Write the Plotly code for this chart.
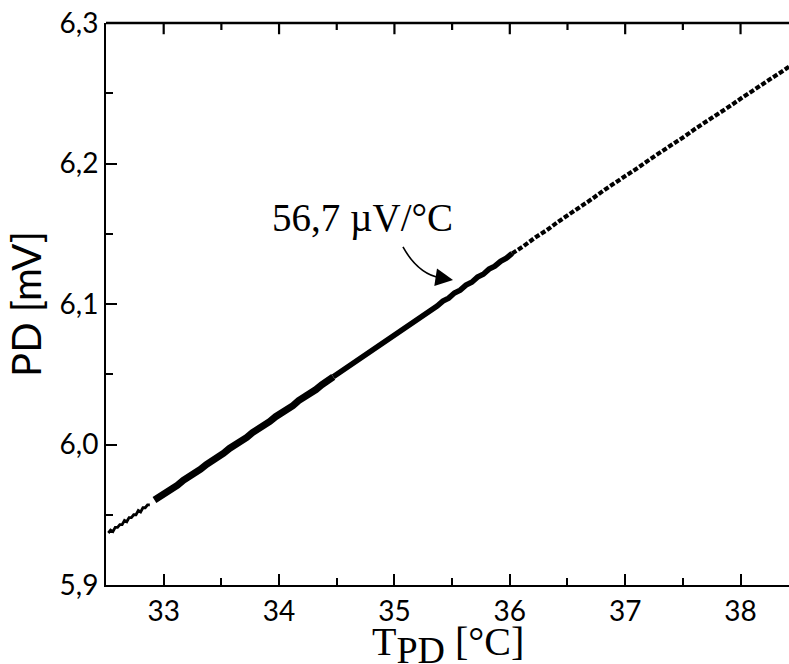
import plotly.graph_objects as go

# --- data (T_PD in °C, PD in mV) ---
t_a = [32.52, 32.54, 32.56, 32.58, 32.60, 32.62, 32.64, 32.66, 32.68, 32.70,
       32.72, 32.74, 32.76, 32.78, 32.80, 32.82, 32.84, 32.86, 32.88]
v_a = [5.937, 5.939, 5.938, 5.941, 5.941, 5.943, 5.943, 5.946, 5.945, 5.948,
       5.948, 5.950, 5.950, 5.953, 5.952, 5.955, 5.955, 5.957, 5.957]

t_b = [32.92, 32.97, 33.02, 33.07, 33.12, 33.17, 33.22, 33.27, 33.32, 33.37,
       33.42, 33.47, 33.52, 33.57, 33.62, 33.67, 33.72, 33.77, 33.82, 33.87,
       33.92, 33.97, 34.02, 34.07, 34.12, 34.17, 34.22, 34.27, 34.32, 34.37,
       34.42, 34.47]
v_b = [5.9605, 5.9630, 5.9652, 5.9688, 5.9710, 5.9745, 5.9768, 5.9801, 5.9824, 5.9858,
       5.9880, 5.9915, 5.9938, 5.9972, 5.9995, 6.0028, 6.0051, 6.0085, 6.0107, 6.0142,
       6.0164, 6.0198, 6.0221, 6.0255, 6.0277, 6.0312, 6.0334, 6.0368, 6.0391, 6.0425,
       6.0447, 6.0482]

t_c = [34.47, 34.52, 34.57, 34.62, 34.67, 34.72, 34.77, 34.82, 34.87, 34.92, 34.97,
       35.02, 35.07, 35.12, 35.17, 35.22, 35.27, 35.32, 35.37, 35.42, 35.47,
       35.52, 35.57, 35.62, 35.67, 35.72, 35.77, 35.82, 35.87, 35.92, 35.97,
       36.02]
v_c = [6.0482, 6.0510, 6.0532, 6.0567, 6.0589, 6.0624, 6.0646, 6.0680, 6.0702, 6.0738, 6.0759,
       6.0794, 6.0815, 6.0851, 6.0872, 6.0908, 6.0929, 6.0964, 6.0986, 6.1021, 6.1042,
       6.1078, 6.1099, 6.1134, 6.1155, 6.1191, 6.1212, 6.1248, 6.1269, 6.1304, 6.1326,
       6.1360]

t_d = [36.02, 36.12, 36.22, 36.32, 36.42, 36.52, 36.62, 36.72, 36.82, 36.92,
       37.02, 37.12, 37.22, 37.32, 37.42, 37.52, 37.62, 37.72, 37.82, 37.92,
       38.02, 38.12, 38.22, 38.32, 38.42]
v_d = [6.1360, 6.1412, 6.1473, 6.1525, 6.1586, 6.1639, 6.1699, 6.1752, 6.1812, 6.1864,
       6.1922, 6.1975, 6.2033, 6.2086, 6.2144, 6.2196, 6.2254, 6.2305, 6.2363, 6.2415,
       6.2472, 6.2524, 6.2582, 6.2632, 6.2688]

y_ticks = [5.9, 6.0, 6.1, 6.2, 6.3]
y_ticklabels = ["5,9", "6,0", "6,1", "6,2", "6,3"]
x_ticks = [33, 34, 35, 36, 37, 38]
x_ticklabels = ["33", "34", "35", "36", "37", "38"]
x_minor_ticks = [33.5, 34.5, 35.5, 36.5, 37.5]
x_range = [32.5, 38.42]
y_range = [5.9, 6.3]

slope_label = "56,7 µV/°C"
x_title = "T<sub><span style='font-size:38px'>PD</span></sub> [°C]"
y_title = "PD [mV]"

fig = go.Figure()
fig.add_trace(go.Scatter(x=t_a, y=v_a, mode="lines",
                         line=dict(color="black", width=2.8), showlegend=False))
fig.add_trace(go.Scatter(x=t_b, y=v_b, mode="lines",
                         line=dict(color="black", width=7), showlegend=False))
fig.add_trace(go.Scatter(x=t_c, y=v_c, mode="lines",
                         line=dict(color="black", width=5.5), showlegend=False))
fig.add_trace(go.Scatter(x=t_d, y=v_d, mode="lines",
                         line=dict(color="black", width=4.2, dash="5px,2px"), showlegend=False))

# curved pointer
fig.add_shape(type="path", xref="x", yref="y",
              path="M 35.074,6.1406 Q 35.204,6.1214 35.40,6.1185",
              line=dict(color="black", width=1.6))
fig.add_annotation(x=35.508, y=6.1171, ax=35.39, ay=6.1186, axref="x", ayref="y",
                   xref="x", yref="y", text="", showarrow=True, arrowhead=2,
                   arrowsize=2.2, arrowwidth=1.6, arrowcolor="black", standoff=0)
fig.add_annotation(x=34.726, y=6.161, xref="x", yref="y", text=slope_label,
                   showarrow=False, xanchor="center", yanchor="middle",
                   font=dict(family="Liberation Serif, Times New Roman, serif", size=39, color="black"))
fig.add_annotation(x=0.5, y=-0.107, xref="paper", yref="paper", text=x_title,
                   showarrow=False, xanchor="center", yanchor="middle",
                   font=dict(family="Liberation Serif, Times New Roman, serif", size=40, color="black"))

# top frame line of the plot area with inward ticks
fig.add_shape(type="line", xref="paper", yref="paper", x0=0, x1=1, y0=1, y1=1,
              line=dict(color="black", width=2.5))
for tv in x_ticks:
    fig.add_shape(type="line", xref="x", yref="y", x0=tv, x1=tv,
                  y0=y_range[1], y1=y_range[1] - 0.008,
                  line=dict(color="black", width=2.2))
for tv in x_minor_ticks:
    fig.add_shape(type="line", xref="x", yref="y", x0=tv, x1=tv,
                  y0=y_range[1], y1=y_range[1] - 0.005,
                  line=dict(color="black", width=2.2))

tick_font = dict(family="Lato, sans-serif", size=28, color="black")

fig.update_layout(
    xaxis=dict(range=x_range, tickmode="array", tickvals=x_ticks, ticktext=x_ticklabels,
               ticks="inside", ticklen=11, tickwidth=2, tickcolor="black",
               showline=True, linecolor="black", linewidth=2, mirror=False,
               showgrid=False, zeroline=False, tickfont=tick_font, automargin=False,
               minor=dict(dtick=0.5, tick0=32.5, ticks="inside", ticklen=7,
                          tickwidth=2, tickcolor="black")),
    yaxis=dict(range=y_range, tickmode="array", tickvals=y_ticks, ticktext=y_ticklabels,
               ticks="inside", ticklen=11, tickwidth=2, tickcolor="black",
               showline=True, linecolor="black", linewidth=2, mirror=False,
               showgrid=False, zeroline=False, tickfont=tick_font, automargin=False,
               minor=dict(dtick=0.05, tick0=5.9, ticks="inside", ticklen=7,
                          tickwidth=2, tickcolor="black"),
               title=dict(text=y_title, standoff=6,
                          font=dict(family="Lato, sans-serif", size=40, color="black"))),
    width=789, height=664,
    margin=dict(l=106, r=0, t=23, b=79, autoexpand=False),
    plot_bgcolor="white", paper_bgcolor="white")

fig.write_html("out.html", config={"displayModeBar": False},
               post_script="document.body.style.margin='0';document.body.style.overflow='hidden';")
